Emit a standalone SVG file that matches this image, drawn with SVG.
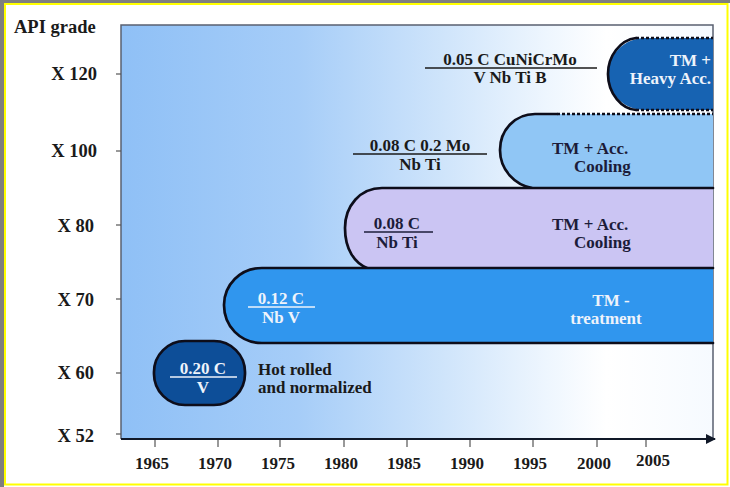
<svg xmlns="http://www.w3.org/2000/svg" width="730" height="487" viewBox="0 0 730 487">
<defs>
<linearGradient id="bg" x1="0" y1="0" x2="1" y2="0">
<stop offset="0" stop-color="#8fc0f6"/>
<stop offset="0.3" stop-color="#a6cdf8"/>
<stop offset="0.55" stop-color="#d0e5fb"/>
<stop offset="0.72" stop-color="#eef6fe"/>
<stop offset="0.82" stop-color="#ffffff"/>
<stop offset="1" stop-color="#f6faff"/>
</linearGradient>
<marker id="arr" viewBox="0 0 10 10" refX="9" refY="5" markerWidth="7" markerHeight="5" markerUnits="strokeWidth" orient="auto">
<path d="M0,0 L10,5 L0,10 Z" fill="#101828"/>
</marker>
<style>
.t{font-family:"Liberation Serif","Times New Roman",serif;font-weight:bold;font-size:17px;fill:#1a1a1a}
.ax{font-size:18.5px}
.yr{font-size:17px}
.w{fill:#eef3fb}
.n{fill:#1c1c3a}
.m{text-anchor:middle}
.e{text-anchor:end}
.edge{fill:none;stroke:#0d0d1a;stroke-width:2.7;stroke-linecap:round}
.dot{fill:none;stroke:#0d0d1a;stroke-width:2.7;stroke-dasharray:3 2}
.frac{stroke-width:1.3}
.tick{stroke:#555;stroke-width:1.2}
</style>
</defs>
<rect x="0" y="0" width="730" height="487" fill="#ffffff"/>
<rect x="0" y="0" width="730" height="3" fill="#7f7f7f"/>
<rect x="0" y="0" width="4" height="487" fill="#7f7f7f"/>
<rect x="5" y="4" width="722.5" height="480.5" fill="#ffffff" stroke="#ffff00" stroke-width="2"/>

<g id="plot">
<rect x="121" y="25" width="592" height="414" fill="url(#bg)"/>
<path d="M121,439 V25 H713 V439" fill="none" stroke="#5a6070" stroke-width="1.5"/>
</g>

<g id="node-x120">
<path d="M713,38 H645 C624,38 608,55 608,74 C608,94 624,110 645,110 H713 Z" fill="#1763b2"/>
<path class="edge" d="M636,38 C620,40 608,56 608,74 C608,94 622,109 636,110"/>
<path class="dot" d="M636,38 H713 M636,110 H713"/>
<text class="t e w" x="711" y="66">TM +</text>
<text class="t e w" x="711" y="84">Heavy Acc.</text>
</g>

<g id="label-x120">
<text class="t m" x="510" y="65">0.05 C CuNiCrMo</text>
<line class="frac" x1="425" y1="68" x2="597" y2="68" stroke="#1a1a1a"/>
<text class="t m" x="510" y="83">V Nb Ti B</text>
</g>

<g id="node-x100">
<path d="M713,114 H535 C515,114 500,130 500,150 C500,170 515,185 532,188 H713 Z" fill="#90c6f5"/>
<path class="edge" d="M557,114 H535 C515,114 500,130 500,150 C500,170 515,185 532,188"/>
<path class="dot" d="M557,114 H713"/>
<text class="t n" x="552" y="154">TM + Acc.</text>
<text class="t n" x="574" y="172">Cooling</text>
</g>

<g id="label-x100">
<text class="t m" x="420" y="151">0.08 C 0.2 Mo</text>
<line class="frac" x1="353" y1="154" x2="487" y2="154" stroke="#1a1a1a"/>
<text class="t m" x="420" y="170">Nb Ti</text>
</g>

<g id="node-x80">
<path d="M713,188 H382 C360,188 345,206 345,228 C345,250 355,263 367,268 H713 Z" fill="#cbc5f3"/>
<path class="edge" d="M713,188 H382 C360,188 345,206 345,228 C345,250 355,263 367,268"/>
<text class="t m n" x="397" y="229">0.08 C</text>
<line class="frac" x1="364" y1="232" x2="433" y2="232" stroke="#1c1c3a"/>
<text class="t m n" x="397" y="248">Nb Ti</text>
<text class="t n" x="552" y="230">TM + Acc.</text>
<text class="t n" x="574" y="248">Cooling</text>
</g>

<g id="node-x70">
<path d="M713,268 H262 C240,268 224,285 224,305 C224,326 240,343 262,343 H713 Z" fill="#3096ee"/>
<path class="edge" d="M713,268 H262 C240,268 224,285 224,305 C224,326 240,343 262,343 H713"/>
<text class="t m w" x="281" y="304">0.12 C</text>
<line class="frac" x1="248" y1="307" x2="315" y2="307" stroke="#eef3fb"/>
<text class="t m w" x="281" y="323">Nb V</text>
<text class="t m w" x="611" y="306">TM -</text>
<text class="t m w" x="606" y="324">treatment</text>
</g>

<g id="node-x60">
<rect x="154" y="341" width="91" height="64" rx="31" ry="31" fill="#0d4e98" stroke="#0d0d1a" stroke-width="2.7"/>
<text class="t m w" x="203" y="374">0.20 C</text>
<line class="frac" x1="170" y1="377" x2="237" y2="377" stroke="#eef3fb"/>
<text class="t m w" x="203" y="393">V</text>
<text class="t" x="258" y="375">Hot rolled</text>
<text class="t" x="258" y="393">and normalized</text>
</g>

<g id="axes">
<line x1="121" y1="439" x2="715" y2="439" stroke="#101828" stroke-width="2" marker-end="url(#arr)"/>
<text class="t ax" x="14" y="33">API grade</text>
<g class="tick">
<line x1="116" y1="74" x2="121" y2="74"/>
<line x1="116" y1="151" x2="121" y2="151"/>
<line x1="116" y1="225" x2="121" y2="225"/>
<line x1="116" y1="299" x2="121" y2="299"/>
<line x1="116" y1="373" x2="121" y2="373"/>
<line x1="116" y1="434" x2="121" y2="434"/>
<line x1="155" y1="440" x2="155" y2="447"/>
<line x1="218" y1="440" x2="218" y2="447"/>
<line x1="280" y1="440" x2="280" y2="447"/>
<line x1="344" y1="440" x2="344" y2="447"/>
<line x1="407" y1="440" x2="407" y2="447"/>
<line x1="470" y1="440" x2="470" y2="447"/>
<line x1="533" y1="440" x2="533" y2="447"/>
<line x1="597" y1="440" x2="597" y2="447"/>
<line x1="646" y1="440" x2="646" y2="447"/>
</g>
<text class="t ax e" x="97" y="80">X 120</text>
<text class="t ax e" x="97" y="157">X 100</text>
<text class="t ax e" x="94" y="232">X 80</text>
<text class="t ax e" x="94" y="306">X 70</text>
<text class="t ax e" x="94" y="379">X 60</text>
<text class="t ax e" x="94" y="442">X 52</text>
<text class="t yr m" x="152" y="469">1965</text>
<text class="t yr m" x="215" y="469">1970</text>
<text class="t yr m" x="278" y="469">1975</text>
<text class="t yr m" x="341" y="469">1980</text>
<text class="t yr m" x="404" y="469">1985</text>
<text class="t yr m" x="467" y="469">1990</text>
<text class="t yr m" x="530" y="469">1995</text>
<text class="t yr m" x="594" y="469">2000</text>
<text class="t yr m" x="653" y="466">2005</text>
</g>
</svg>
